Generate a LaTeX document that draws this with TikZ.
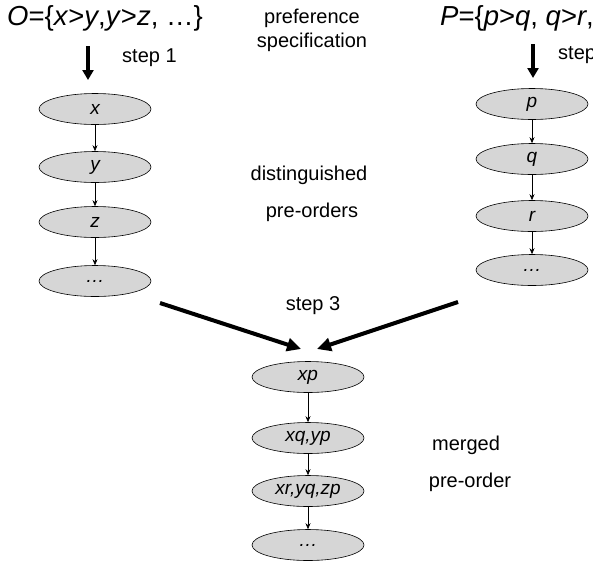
\documentclass[tikz,border=0pt]{standalone}
\usepackage{fontspec}
\setmainfont{Liberation Sans}
\usetikzlibrary{shapes.geometric,arrows.meta}
\begin{document}
\begin{tikzpicture}[x=1pt,y=-1pt,
  state/.style={ellipse,draw=black,line width=0.6pt,fill=black!16,
    minimum width=112pt,minimum height=31pt,inner sep=0pt,
    font=\fontsize{19}{21}\selectfont\itshape},
  link/.style={-{Stealth[length=6pt,width=5pt]},line width=0.6pt},
  stepin/.style={-{Triangle[length=10pt,width=11pt]},line width=3.2pt},
  merge/.style={-{Triangle[length=14pt,width=13pt]},line width=4pt},
  lbl/.style={font=\fontsize{20}{22}\selectfont,inner sep=0pt},
  spec/.style={font=\fontsize{27.5}{30}\selectfont,inner sep=0pt}]
\useasboundingbox (0,0) rectangle (593,571);
\clip (0,0) rectangle (593,571);

% preference specifications
\node[spec,anchor=west] (O) at (7,18) {\textit{O}=\{\textit{x}>\textit{y},\textit{y}>\textit{z}, …\}};
\node[spec,anchor=west] (P) at (440,18) {\textit{P}=\{\textit{p}>\textit{q}, \textit{q}>\textit{r}, …\}};
\node[lbl] (pref) at (312,18) {preference};
\node[lbl] (specif) at (312,42) {specification};

% step 1 / step 2
\coordinate (s1a) at (88,46);
\coordinate (s1b) at (88,80);
\draw[stepin] (s1a) -- (s1b);
\node[lbl,anchor=west] (step1) at (122,58) {step 1};
\coordinate (s2a) at (533,44);
\coordinate (s2b) at (533,78);
\draw[stepin] (s2a) -- (s2b);
\node[lbl,anchor=west] (step2) at (558,55) {step 2};

% left pre-order
\node[state] (x) at (95,109) {x};
\node[state] (y) at (95,167) {y};
\node[state] (z) at (95,222) {z};
\node[state] (ldots) at (95,281) {…};
\draw[link] (x) -- (y);
\draw[link] (y) -- (z);
\draw[link] (z) -- (ldots);

% right pre-order
\node[state] (p) at (532,104) {p};
\node[state] (q) at (532,159) {q};
\node[state] (r) at (532,216) {r};
\node[state] (rdots) at (532,270) {…};
\draw[link] (p) -- (q);
\draw[link] (q) -- (r);
\draw[link] (r) -- (rdots);

\node[lbl] (dist) at (309,175) {distinguished};
\node[lbl] (preo) at (312,212) {pre-orders};

% step 3: merging
\coordinate (m1a) at (160,303);
\coordinate (m1b) at (301,349);
\coordinate (m2a) at (458,302);
\coordinate (m2b) at (317,349);
\draw[merge] (m1a) -- (m1b);
\draw[merge] (m2a) -- (m2b);
\node[lbl] (step3) at (313,306) {step 3};

% merged pre-order
\node[state] (xp) at (308,377) {xp};
\node[state] (xqyp) at (308,438) {xq,yp};
\node[state] (xryqzp) at (308,491) {xr,yq,zp};
\node[state] (mdots) at (308,545) {…};
\draw[link] (xp) -- (xqyp);
\draw[link] (xqyp) -- (xryqzp);
\draw[link] (xryqzp) -- (mdots);

\node[lbl] (merged) at (466,445) {merged};
\node[lbl] (mpreo) at (470,482) {pre-order};
\end{tikzpicture}
\end{document}
